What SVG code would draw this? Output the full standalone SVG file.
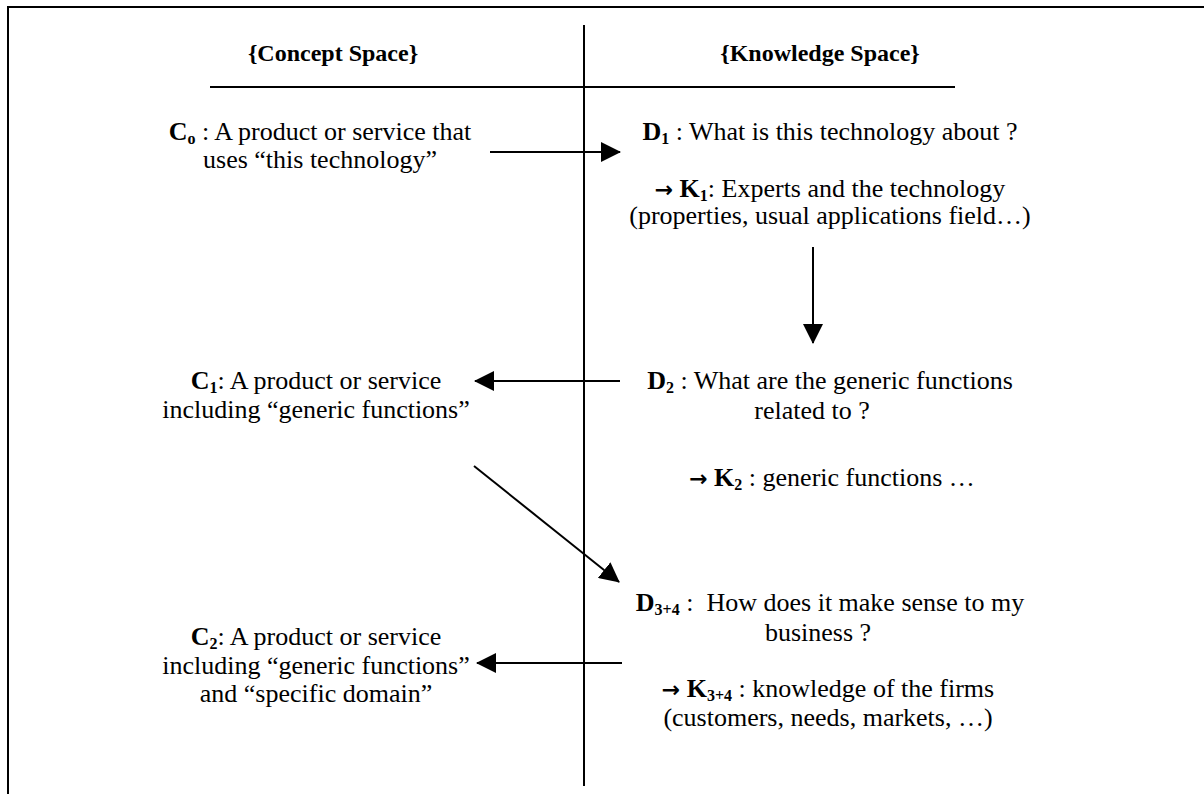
<svg xmlns="http://www.w3.org/2000/svg" width="1204" height="794" viewBox="0 0 1204 794">
<style>
text{font-family:"Liberation Serif","Times New Roman",serif;font-size:26px;fill:#000;text-anchor:middle}
.b{font-weight:bold}
.s{font-weight:bold;font-size:16px}
.a{font-family:"DejaVu Sans",sans-serif;font-weight:bold;font-size:22px}
.h{font-weight:bold;font-size:24px}
.ln{stroke:#000;stroke-width:2;fill:none}
.ar{stroke:#000;stroke-width:2;fill:none;marker-end:url(#ah)}
</style>
<defs>
<marker id="ah" markerWidth="20" markerHeight="20" refX="19" refY="10" orient="auto" markerUnits="userSpaceOnUse">
<path d="M0,0 L20,10 L0,20 Z" fill="#000"/>
</marker>
</defs>
<g id="frame">
<line class="ln" x1="8" y1="7" x2="1204" y2="7"/>
<line class="ln" x1="8" y1="6" x2="8" y2="794"/>
<line class="ln" x1="584" y1="25" x2="584" y2="786"/>
<line class="ln" x1="210" y1="87" x2="955" y2="87"/>
</g>
<g id="headers">
<text class="h" x="333" y="61">{Concept Space}</text>
<text class="h" x="820" y="61">{Knowledge Space}</text>
</g>
<g id="C0">
<text x="320" y="140"><tspan class="b">C</tspan><tspan class="s" dy="4">o</tspan><tspan dy="-4"> : A product or service that</tspan></text>
<text x="320" y="168">uses “this technology”</text>
</g>
<g id="D1">
<text x="830" y="140"><tspan class="b">D</tspan><tspan class="s" dy="4">1</tspan><tspan dy="-4"> : What is this technology about ?</tspan></text>
</g>
<g id="K1">
<text x="830" y="197"><tspan class="a">→</tspan><tspan class="b"> K</tspan><tspan class="s" dy="4">1</tspan><tspan dy="-4">: Experts and the technology</tspan></text>
<text x="830" y="224">(properties, usual applications field…)</text>
</g>
<g id="D2">
<text x="830" y="389"><tspan class="b">D</tspan><tspan class="s" dy="4">2</tspan><tspan dy="-4"> : What are the generic functions</tspan></text>
<text x="812" y="419">related to ?</text>
</g>
<g id="C1">
<text x="316" y="389"><tspan class="b">C</tspan><tspan class="s" dy="4">1</tspan><tspan dy="-4">: A product or service</tspan></text>
<text x="316" y="418">including “generic functions”</text>
</g>
<g id="K2">
<text x="832" y="486"><tspan class="a">→</tspan><tspan class="b"> K</tspan><tspan class="s" dy="4">2</tspan><tspan dy="-4"> : generic functions …</tspan></text>
</g>
<g id="D34">
<text x="830" y="611" xml:space="preserve"><tspan class="b">D</tspan><tspan class="s" dy="4">3+4</tspan><tspan dy="-4"> :  How does it make sense to my</tspan></text>
<text x="818" y="641">business ?</text>
</g>
<g id="C2">
<text x="316" y="645"><tspan class="b">C</tspan><tspan class="s" dy="4">2</tspan><tspan dy="-4">: A product or service</tspan></text>
<text x="316" y="674">including “generic functions”</text>
<text x="316" y="702">and “specific domain”</text>
</g>
<g id="K34">
<text x="828" y="697"><tspan class="a">→</tspan><tspan class="b"> K</tspan><tspan class="s" dy="4">3+4</tspan><tspan dy="-4"> : knowledge of the firms</tspan></text>
<text x="828" y="726">(customers, needs, markets, …)</text>
</g>
<g id="connectors">
<line class="ar" x1="490" y1="152" x2="620" y2="152"/>
<line class="ar" x1="813" y1="247" x2="813" y2="343"/>
<line class="ar" x1="620" y1="381" x2="475" y2="381"/>
<line class="ar" x1="474" y1="466" x2="619" y2="582"/>
<line class="ar" x1="622" y1="663" x2="477" y2="663"/>
</g>
</svg>
